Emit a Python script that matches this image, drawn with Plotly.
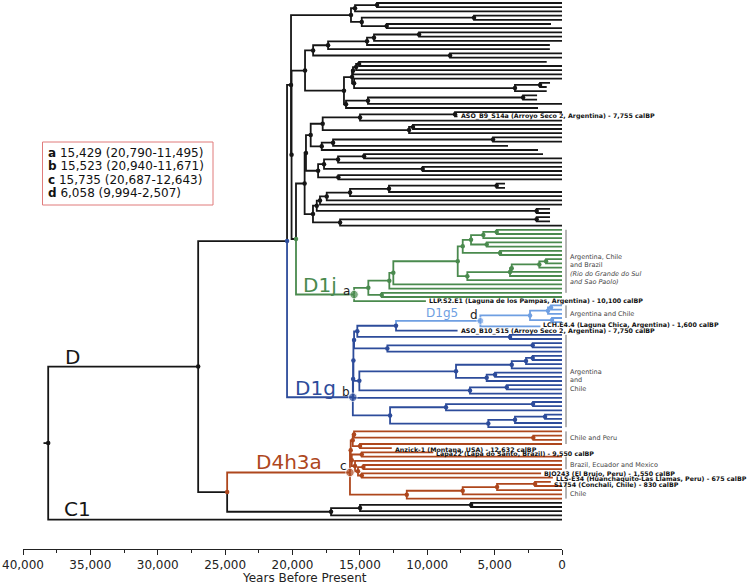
import plotly.graph_objects as go

# ------------------------------------------------------------------ data
x_tick_years = [40000, 35000, 30000, 25000, 20000, 15000, 10000, 5000, 0]
x_tick_text = ["40,000", "35,000", "30,000", "25,000", "20,000", "15,000", "10,000", "5,000", "0"]
x_minor_years = [37500, 32500, 27500, 22500, 17500, 12500, 7500, 2500]

sample_keys = ["ASO_B9", "LLP", "LCH", "ASO_B10", "Anzick", "Lapa22", "BJO243", "LLS", "S1754"]
sample_labels = [
    "ASO_B9_S14a (Arroyo Seco 2, Argentina) - 7,755 calBP",
    "LLP.S2.E1 (Laguna de los Pampas, Argentina) - 10,100 calBP",
    "LCH.E4.4 (Laguna Chica, Argentina) - 1,600 calBP",
    "ASO_B10_S15 (Arroyo Seco 2, Argentina) - 7,750 calBP",
    "Anzick-1 (Montana, USA) - 12,632 calBP",
    "Lapa22 (Lapa do Santo, Brazil) - 9,550 calBP",
    "BJO243 (El Brujo, Peru) - 1,550 calBP",
    "LLS-E34 (Huanchaquito-Las Llamas, Peru) - 675 calBP",
    "S1754 (Conchali, Chile) - 830 calBP",
]
sample_ages = [7755, 10100, 1600, 7750, 12632, 9550, 1550, 675, 830]
sample_label_dy = [0, 0, 1.8, -0.3, -0.8, -1.8, -0.3, -1.3, -2.8]   # small vertical nudges (px)

tag_names = ["a", "b", "c", "d"]
tag_ages = [15429, 15523, 15735, 6058]
tag_hpd_hi = [20790, 20940, 20687, 9994]
tag_hpd_lo = [11495, 11671, 12643, 2507]

region_texts = [
    "Argentina, Chile<br>and Brazil<br><i>(Rio do Grande do Sul</i><br><i>and Sao Paolo)</i>",
    "Argentina and Chile",
    "Argentina<br>and<br>Chile",
    "Chile and Peru",
    "Brazil, Ecuador and Mexico",
    "Chile",
]
region_first_tip = [54, 72, 79, 102, 108, 114]
region_last_tip = [69, 75, 101, 105, 111, 118]

# Tree pieces: "(child,child)AGE" with ages in years BP; tips are AGE or #sample.
# Suffixes after a node age: g/b/l/r clade colour, ^x dot colour, @t node tag.
T1 = "(((0,0)13730,0)15360,((0,0)6530,(816,0)13010)14860)15660"
N76A = "(((((0,0)10610,0)13950,900)14470,900)17360,(0,0)8310)18470"
LAD = "((((1135,0)15060,0)15280,0)15510,(0,((890,1135)1630,1135)3490)15430)15580"
Y2 = "(((1850,1850)2890,0)14400,1780)16030"
U = "((((0,#ASO_B9)7940,0)14990,((0,0)11060,0)11350)17760,(((0,0)5120,4007)16990,1780)17830)18650"
R = "((((1410,0)14690,0)16620,(0,0)10340)17660,(0,0)16600)18100"
NLOW = "(((((((4230,4230)4850,0)12840,0)15730,0)17460,0)17960,(890,890)1880)18200,((890,890)1880,0)16470)18480"
G6 = "((((0,0)4845,0)5840,(0,0)5587)6752,(0,0)4600)7368"
G7 = "(((((0,0)1187,0)1684,0)3732,0)3858,0)7027"
D1G5 = "((((0,0)816,0)1040,(0,0)742)2374,#LCH)6058l@d"
N456 = "((((0,0)2175,0)2670,0)3730,((0,0)4970,0)5590)7865"
N390 = "(((0,0)2150,0)8610,(((0,0)1260,0)3490,0)5470)12760"
RED_A = "(((0,(0,0)2130)15434,(0,#Anzick)14990)15530,((#Lapa22,0)14860,(0,((0,0)14740,(#BJO243,#LLS)14860)15140)15360)15600)15680"
RED_B = "((((#S1754,0)2000,0)4820,0)7370,0)11520"
C_SIS = "(((0,0)6750,0)14990,0)17140"

D1J = "((((({G6},{G7})7739,0)12518,0)12815,(0,0)13378)14373,#LLP)15429g@a".format(G6=G6, G7=G7)
N357 = "(({D1G5},#ASO_B10)12317,(0,0)3860)15190".format(D1G5=D1G5)
N354 = "({N357},((0,0)2175,0)12960)15430".format(N357=N357)
N359 = "({N456},((0,0)4100,0)6830)15040".format(N456=N456)
D1G = "((({N354},{N359})15480,0)15500,{N390})15523b@b".format(N354=N354, N359=N359, N390=N390)
D4H3A = "({A},{B})15735r@c".format(A=RED_A, B=RED_B)
N186 = "(({U},{R})19000,{NLOW})19100".format(U=U, R=R, NLOW=NLOW)
BNODE = "({N186},{D1J})19740^g".format(N186=N186, D1J=D1J)
N76 = "({N76A},({LAD},{Y2})16180)19070".format(N76A=N76A, LAD=LAD, Y2=Y2)
Q2 = "({N76},{B})20070".format(N76=N76, B=BNODE)
Q = "({T1},{Q2})20110".format(T1=T1, Q2=Q2)
ANODE = "({Q},{D1G})20405^b".format(Q=Q, D1G=D1G)
XNODE = "({D4},{CS})24850^r".format(D4=D4H3A, CS=C_SIS)
DNODE = "({A},{X})27000".format(A=ANODE, X=XNODE)
TREE = "({D},0)38130".format(D=DNODE)

# ------------------------------------------------------------------ parse / layout
def parse(s):
    pos = 0

    def num():
        nonlocal pos
        st = pos
        while pos < len(s) and (s[pos].isdigit() or s[pos] == "."):
            pos += 1
        return float(s[st:pos])

    def node():
        nonlocal pos
        n = {"kids": [], "col": None, "dot": None, "tag": None, "label": None}
        if s[pos] == "(":
            pos += 1
            n["kids"].append(node())
            while s[pos] == ",":
                pos += 1
                n["kids"].append(node())
            pos += 1
            n["age"] = num()
        elif s[pos] == "#":
            pos += 1
            st = pos
            while pos < len(s) and (s[pos].isalnum() or s[pos] == "_"):
                pos += 1
            i = sample_keys.index(s[st:pos])
            n["age"] = sample_ages[i]
            n["label"] = sample_labels[i]
            n["dy"] = sample_label_dy[i]
        else:
            n["age"] = num()
        while pos < len(s) and s[pos] not in ",)":
            c = s[pos]
            if c in "gblr":
                n["col"] = c
                pos += 1
            elif c == "^":
                n["dot"] = s[pos + 1]
                pos += 2
            elif c == "@":
                n["tag"] = s[pos + 1]
                pos += 2
            else:
                raise ValueError(c)
        return n

    return node()


root = parse(TREE)
tips = []
internals = []


def layout(n, pc):
    n["c"] = n["col"] or pc
    if not n["kids"]:
        n["y"] = len(tips)
        tips.append(n)
    else:
        for k in n["kids"]:
            layout(k, n["c"])
        n["y"] = (n["kids"][0]["y"] + n["kids"][-1]["y"]) / 2.0
        internals.append(n)


layout(root, "k")

COL = {"k": "#161616", "g": "#4a8a4e", "b": "#2d4c9b", "l": "#6f9fe2", "r": "#ae471d"}
segs = {c: ([], []) for c in COL}


def draw(n):
    for k in n["kids"]:
        xs, ys = segs[k["c"]]
        xs += [n["age"], n["age"], k["age"], None]
        ys += [n["y"], k["y"], k["y"], None]
        draw(k)


draw(root)
segs["k"][0].extend([root["age"] + 350, root["age"], None])
segs["k"][1].extend([root["y"], root["y"], None])

# ------------------------------------------------------------------ figure geometry
W, H = 749, 587
ML, MR, MT, MB = 23, 187, 0, 38
PW, PH = W - ML - MR, H - MT - MB
TIP0_PX, TIP_STEP = 3.0, 4.2
Y_TOP = -TIP0_PX / TIP_STEP
Y_BOT = Y_TOP + PH / TIP_STEP


def yr(px):
    return 40000 - (px - ML) / PW * 40000


def ti(py):
    return Y_TOP + (py - MT) / PH * (Y_BOT - Y_TOP)


def px_paper(px):
    return (px - ML) / PW


def py_paper(py):
    return 1 - (py - MT) / PH


fig = go.Figure()
for c in ["k", "g", "b", "l", "r"]:
    xs, ys = segs[c]
    fig.add_trace(go.Scatter(x=xs, y=ys, mode="lines", line=dict(color=COL[c], width=1.8),
                             hoverinfo="skip", showlegend=False))

# node dots
sx, sy, sc = [], [], []
bx, by, bc, bs = [], [], [], []
for n in internals:
    col = COL[n["dot"] or n["c"]]
    if n["tag"]:
        bx.append(n["age"]); by.append(n["y"]); bc.append(col)
        bs.append(7 if n["tag"] == "d" else 8.5)
    else:
        sx.append(n["age"]); sy.append(n["y"]); sc.append(col)
fig.add_trace(go.Scatter(x=sx, y=sy, mode="markers", marker=dict(color=sc, size=4.5),
                         hoverinfo="skip", showlegend=False, cliponaxis=False))
fig.add_trace(go.Scatter(x=bx, y=by, mode="markers", marker=dict(color=bc, size=bs),
                         hoverinfo="skip", showlegend=False, cliponaxis=False))

# sample labels
for t in tips:
    if t["label"]:
        fig.add_annotation(x=t["age"], y=t["y"], xref="x", yref="y", text="<b>" + t["label"] + "</b>",
                           showarrow=False, xanchor="left", yanchor="middle", xshift=1, yshift=t["dy"],
                           font=dict(family="DejaVu Sans", size=6.3, color="#111"))

# region brackets + labels
region_label_py = [269.5, 314.3, 380.7, 438.3, 465.0, 494.0]
for txt, f, l, py in zip(region_texts, region_first_tip, region_last_tip, region_label_py):
    fig.add_shape(type="line", xref="paper", yref="y", x0=px_paper(566), x1=px_paper(566),
                  y0=f, y1=l, line=dict(color="#6a6a6a", width=1))
    fig.add_annotation(x=px_paper(568), y=py_paper(py), xref="paper", yref="paper", text=txt,
                       showarrow=False, xanchor="left", yanchor="middle", align="left",
                       font=dict(family="DejaVu Sans", size=6.5, color="#444"))

# clade labels
clade_labels = [("D", 72.6, 356.7, 20, COL["k"]), ("C1", 77.5, 509.3, 20, COL["k"]),
                ("D1j", 320, 285, 20, COL["g"]), ("D1g", 315, 388, 20, COL["b"]),
                ("D4h3a", 289, 461.5, 20, COL["r"]), ("D1g5", 441.7, 313.3, 12, COL["l"]),
                ("a", 346.5, 290.7, 12, "#222"), ("b", 346, 391.7, 12, "#222"),
                ("c", 343.5, 466, 12, "#222"), ("d", 473.7, 315, 12, "#222")]
for txt, px, py, sz, col in clade_labels:
    fig.add_annotation(x=yr(px), y=ti(py), xref="x", yref="y", text=txt, showarrow=False,
                       xanchor="center", yanchor="middle", font=dict(family="DejaVu Sans", size=sz, color=col))

# legend box with node ages (box + one text line per node)
BOX = (42.5, 142, 213, 205)
fig.add_shape(type="rect", xref="paper", yref="paper", x0=px_paper(BOX[0]), x1=px_paper(BOX[2]),
              y0=py_paper(BOX[1]), y1=py_paper(BOX[3]), line=dict(color="#e07b7b", width=1),
              fillcolor="white", layer="above")
for i, (t, a, h, l) in enumerate(zip(tag_names, tag_ages, tag_hpd_hi, tag_hpd_lo)):
    fig.add_annotation(x=px_paper(46), y=py_paper(153 + 13.3 * i), xref="paper", yref="paper",
                       text="<b>%s</b> %s (%s-%s)" % (t, format(a, ","), format(h, ","), format(l, ",")),
                       showarrow=False, xanchor="left", yanchor="middle", align="left",
                       font=dict(family="DejaVu Sans", size=12, color="#111"))

# axis title
fig.add_annotation(x=px_paper(304.5), y=py_paper(578), xref="paper", yref="paper",
                   text="Years Before Present", showarrow=False, xanchor="center", yanchor="middle",
                   font=dict(family="DejaVu Sans", size=12, color="#222"))

fig.update_xaxes(range=[40000, 0], tickvals=x_tick_years, ticktext=x_tick_text,
                 showline=True, linecolor="#222", linewidth=1, ticks="outside", ticklen=5,
                 tickcolor="#222", tickfont=dict(family="DejaVu Sans", size=12, color="#222"),
                 showgrid=False, zeroline=False, automargin=False,
                 minor=dict(tickvals=x_minor_years, ticks="outside", ticklen=3, tickcolor="#222"))
fig.update_yaxes(range=[Y_BOT, Y_TOP], visible=False, showgrid=False, zeroline=False)
fig.update_layout(width=W, height=H, margin=dict(l=ML, r=MR, t=MT, b=MB, autoexpand=False),
                  paper_bgcolor="white", plot_bgcolor="white", showlegend=False,
                  font=dict(family="DejaVu Sans"))
fig.write_html("out.html", config={"displayModeBar": False},
               post_script="document.body.style.margin='0px';")
